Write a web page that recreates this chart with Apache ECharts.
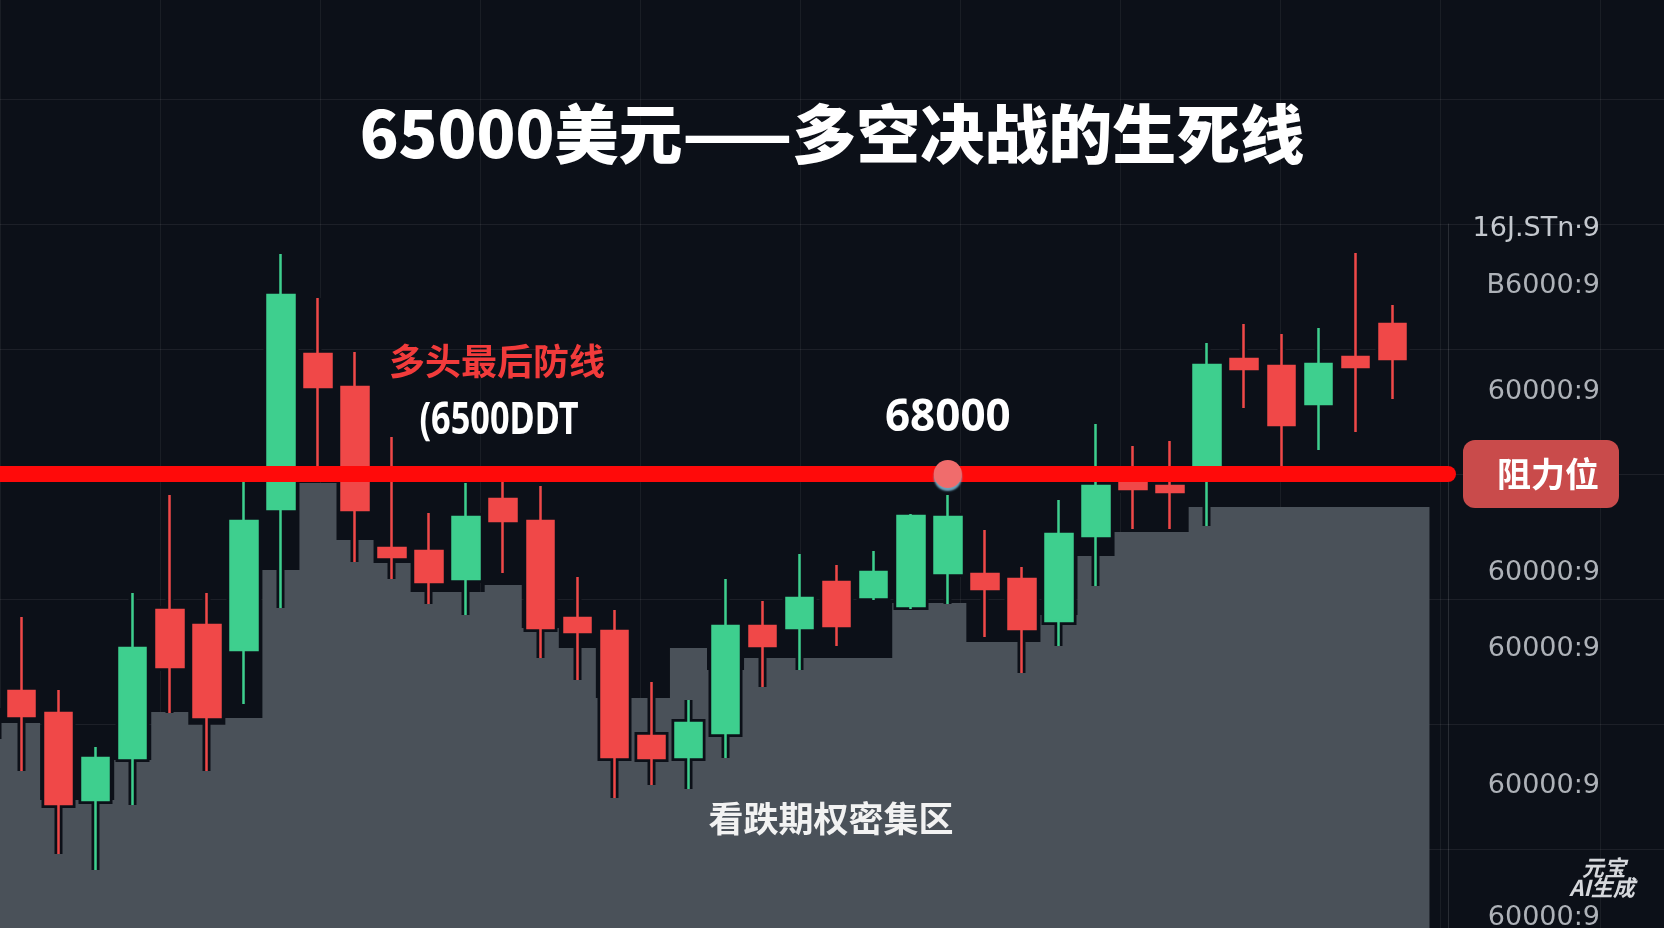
<!DOCTYPE html>
<html>
<head>
<meta charset="utf-8">
<title>65000美元——多空决战的生死线</title>
<script src="https://cdn.jsdelivr.net/npm/echarts@6/dist/echarts.min.js"></script>
<style>
  html, body { margin: 0; padding: 0; background: #0c1018; }
  #chart { width: 1664px; height: 928px; }
</style>
</head>
<body>
<div id="chart"></div>
<script>
// trading days on the x axis (first one is cut off at the left edge, last one is empty)
const days = [
  '2/19', '2/20', '2/21', '2/22', '2/23', '2/24', '2/25', '2/26', '2/27', '2/28',
  '2/29', '3/1', '3/2', '3/3', '3/4', '3/5', '3/6', '3/7', '3/8', '3/9',
  '3/10', '3/11', '3/12', '3/13', '3/14', '3/15', '3/16', '3/17', '3/18', '3/19',
  '3/20', '3/21', '3/22', '3/23', '3/24', '3/25', '3/26', '3/27', '3/28', '3/29'
];

// [open, close, low, high]
const candles = [
  [60240, 59780, 59500, 60500],
  [60660, 60160, 59060, 62140],
  [60220, 58400, 57400, 60680],
  [58480, 59320, 57080, 59540],
  [59320, 61520, 58380, 62620],
  [62280, 61140, 60220, 64580],
  [61980, 60140, 59060, 62620],
  [61480, 64060, 60400, 65080],
  [64300, 68580, 62320, 69400],
  [67400, 66740, 65080, 68520],
  [66740, 64280, 63240, 67440],
  [63520, 63340, 62900, 65740],
  [63460, 62840, 62400, 64220],
  [62900, 64140, 62180, 64820],
  [64500, 64060, 63020, 65120],
  [64060, 61920, 61320, 64760],
  [62120, 61840, 60880, 62940],
  [61860, 59340, 58520, 62280],
  [59760, 59320, 58780, 60840],
  [59340, 60020, 58700, 60480],
  [59820, 61960, 59320, 62900],
  [61960, 61560, 60740, 62460],
  [61920, 62520, 61080, 63400],
  [62840, 61960, 61560, 63180],
  [62540, 63040, 62480, 63460],
  [62360, 64160, 62300, 64200],
  [63020, 64140, 62400, 64580],
  [63000, 62700, 61740, 63880],
  [62900, 61900, 61020, 63140],
  [62060, 63800, 61560, 64480],
  [63760, 64760, 62760, 66000],
  [64840, 64700, 63900, 65560],
  [64760, 64640, 63900, 65660],
  [65080, 67180, 63960, 67620],
  [67300, 67100, 66320, 68000],
  [67160, 65980, 65080, 67800],
  [66400, 67200, 65480, 67920],
  [67340, 67140, 65840, 69420],
  [68000, 67300, 66500, 68380],
  '-'
];

// upper edge of the put-option cluster (grey zone)
const putZone = [
  60020, 60020, 58480, 58480, 59280, 60240, 59980, 60120, 63080, 64820,
  63680, 63220, 62640, 62640, 62780, 61920, 61520, 60520, 60520, 61520,
  61080, 61320, 61320, 61320, 61320, 62420, 62420, 61640, 61640, 62180,
  63360, 63840, 63840, 64340, 64340, 64340, 64340, 64340, 64340, 64340
];

const resistance = 65000;
const pivotDay = days[26];
const pivotLabel = '68000';

// right-hand price tags (as printed) and the price they sit at
const tagTexts = ['16J.STn·9', 'B6000:9', '60000:9', '60000:9', '60000:9', '60000:9', '60000:9'];
const tagValues = [69900, 68760, 66640, 63020, 61500, 58760, 56120];

const BG = '#0c1018';
const UP = '#3ecf8e';
const DOWN = '#f04848';
const CJK = '"Noto Sans CJK SC", "Noto Sans", sans-serif';

const chart = echarts.init(document.getElementById('chart'));

const option = {
  backgroundColor: BG,
  animation: false,
  title: {
    text: '65000美元——多空决战的生死线',
    left: 'center',
    top: 96,
    textStyle: {
      color: '#ffffff',
      fontSize: 64,
      fontWeight: 900,
      fontFamily: CJK,
      lineHeight: 66
    }
  },
  grid: [
    {left: -34, right: 216, top: 224, bottom: -46, outerBoundsMode: 'none'},
    {left: 0, right: 0, top: -26, bottom: -46, outerBoundsMode: 'none'}
  ],
  xAxis: [
    {
      type: 'category',
      data: days,
      gridIndex: 0,
      boundaryGap: true,
      axisLine: {show: false},
      axisTick: {show: false},
      axisLabel: {show: false},
      splitLine: {show: false}
    },
    {
      type: 'value',
      gridIndex: 1,
      min: 0,
      max: 1664,
      interval: 160,
      axisLine: {show: false},
      axisTick: {show: false},
      axisLabel: {show: false},
      splitLine: {show: true, lineStyle: {color: 'rgba(255,255,255,0.06)', width: 1}}
    }
  ],
  yAxis: [
    {
      type: 'value',
      gridIndex: 0,
      min: 55000,
      max: 70000,
      interval: 2500,
      position: 'right',
      axisLine: {show: true, lineStyle: {color: 'rgba(255,255,255,0.12)'}},
      axisTick: {show: false},
      axisLabel: {show: false},
      splitLine: {show: false}
    },
    {
      type: 'value',
      gridIndex: 1,
      min: 0,
      max: 1000,
      interval: 125,
      axisLine: {show: false},
      axisTick: {show: false},
      axisLabel: {show: false},
      splitLine: {show: true, lineStyle: {color: 'rgba(255,255,255,0.07)', width: 1}}
    }
  ],
  series: [
    {
      type: 'scatter',
      xAxisIndex: 1,
      yAxisIndex: 1,
      data: [],
      silent: true
    },
    {
      name: '看跌期权密集区',
      type: 'line',
      data: putZone,
      step: 'middle',
      symbol: 'none',
      silent: true,
      z: 1,
      lineStyle: {width: 0},
      areaStyle: {color: '#4a5159', opacity: 1, origin: 'start'}
    },
    {
      // dark cut-out around the candles where they sit on the grey zone
      type: 'candlestick',
      data: candles,
      barWidth: 27,
      silent: true,
      z: 2,
      itemStyle: {
        color: BG, color0: BG,
        borderColor: BG, borderColor0: BG,
        borderWidth: 8
      }
    },
    {
      name: 'BTC',
      type: 'candlestick',
      data: candles,
      barWidth: 27,
      z: 3,
      itemStyle: {
        color: UP, color0: DOWN,
        borderColor: UP, borderColor0: DOWN,
        borderWidth: 2.5
      },
      markLine: {
        silent: true,
        symbol: ['none', 'none'],
        z: 5,
        lineStyle: {color: '#ff0a0a', width: 16, type: 'solid', cap: 'round'},
        label: {
          show: true,
          position: 'end',
          distance: 15,
          formatter: '阻力位',
          color: '#ffffff',
          fontSize: 34,
          fontWeight: 'bold',
          fontFamily: CJK,
          backgroundColor: '#c94b4b',
          borderRadius: 12,
          padding: [17, 20, 17, 34]
        },
        emphasis: {disabled: true},
        data: [{yAxis: resistance}]
      },
      markPoint: {
        silent: true,
        z: 6,
        symbol: 'circle',
        symbolSize: 28,
        itemStyle: {
          color: '#f06c6c',
          shadowColor: 'rgba(120,180,205,0.9)',
          shadowOffsetY: 3,
          shadowBlur: 2
        },
        label: {
          show: true,
          position: 'top',
          distance: 20,
          formatter: pivotLabel,
          color: '#ffffff',
          fontSize: 44,
          fontWeight: 'bold',
          fontFamily: '"Noto Sans", sans-serif'
        },
        data: [{coord: [pivotDay, resistance]}]
      }
    }
  ]
};

chart.setOption(option);

const graphics = [
  {
    type: 'text', x: 497, y: 361, z: 20,
    style: {text: '多头最后防线', fill: '#f23b3b', align: 'center', verticalAlign: 'middle',
      font: 'bold 36px ' + CJK}
  },
  {
    type: 'text', x: 499, y: 421, z: 20, scaleX: 0.78,
    style: {text: '(6500DDT', fill: '#ffffff', align: 'center', verticalAlign: 'middle',
      font: 'bold 44px "Noto Sans", sans-serif'}
  },
  {
    type: 'text', x: 831, y: 819, z: 20,
    style: {text: '看跌期权密集区', fill: '#f2f2f2', align: 'center', verticalAlign: 'middle',
      font: 'bold 35px ' + CJK}
  },
  {
    type: 'text', x: 1604, y: 868, z: 20,
    style: {text: '元宝', fill: '#d6d8dc', align: 'center', verticalAlign: 'middle',
      font: 'italic bold 22px ' + CJK}
  },
  {
    type: 'text', x: 1602, y: 888, z: 20,
    style: {text: 'AI生成', fill: '#d6d8dc', align: 'center', verticalAlign: 'middle',
      font: 'italic bold 22px ' + CJK}
  }
];

tagTexts.forEach(function (t, i) {
  const y = chart.convertToPixel({yAxisIndex: 0}, tagValues[i]);
  graphics.push({
    type: 'text', x: 1600, y: y, z: 20,
    style: {text: t, fill: i === 0 ? '#c4c8ce' : '#aeb2b8', align: 'right', verticalAlign: 'middle',
      font: '27px "DejaVu Sans", sans-serif'}
  });
});

chart.setOption({graphic: graphics});
</script>
</body>
</html>
